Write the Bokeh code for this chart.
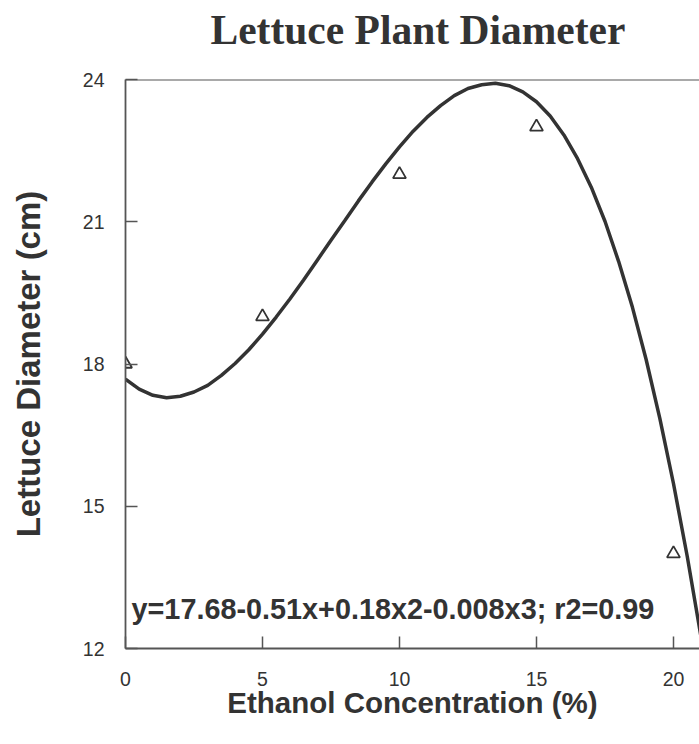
from bokeh.plotting import figure
from bokeh.models import Range1d, FixedTicker, Label, Span, Title
from bokeh.embed import file_html
from bokeh.resources import INLINE

# Observed data (ethanol concentration %, lettuce diameter cm)
conc = [0, 5, 10, 15, 20]
diam = [18.0, 19.0, 22.0, 23.0, 14.0]

# Fitted curve
curve_x = [0, 0.5, 1, 1.5, 2, 2.5, 3, 3.5, 4, 4.5, 5, 5.5, 6, 6.5, 7, 7.5, 8, 8.5,
           9, 9.5, 10, 10.5, 11, 11.5, 12, 12.5, 13, 13.5, 14, 14.5, 15, 15.5, 16,
           16.5, 17, 17.5, 18, 18.5, 19, 19.5, 20, 20.5, 21]
curve_y = [17.68, 17.47, 17.34, 17.29, 17.32, 17.41, 17.55, 17.76, 18.01, 18.30,
           18.63, 18.99, 19.37, 19.77, 20.19, 20.61, 21.02, 21.44, 21.84, 22.22,
           22.58, 22.91, 23.20, 23.45, 23.66, 23.81, 23.89, 23.92, 23.87, 23.74,
           23.53, 23.23, 22.83, 22.33, 21.73, 21.01, 20.16, 19.20, 18.10, 16.86,
           15.48, 13.95, 12.26]

x_ticks = [0, 5, 10, 15, 20]
y_ticks = [12, 15, 18, 21, 24]
title_text = "Lettuce Plant Diameter"
equation = "y=17.68-0.51x+0.18x2-0.008x3; r2=0.99"

INK = "#333333"
FRAME = "#555555"

p = figure(width=699, height=744, output_backend="svg", toolbar_location=None,
           x_range=Range1d(0, 20.95), y_range=Range1d(12, 24),
           min_border_left=125, min_border_right=0, min_border_top=79,
           min_border_bottom=96, background_fill_color="white",
           border_fill_color="white", outline_line_color=None)

# spacer panel between the frame and the title
p.add_layout(Title(text=" ", text_font_size="1px", standoff=24), "above")

p.title.text = title_text
p.title.text_font = "Liberation Serif"
p.title.text_font_style = "bold"
p.title.text_font_size = "41.5px"
p.title.text_color = INK
p.title.align = "left"
p.title.vertical_align = "bottom"
p.title.offset = 85
p.title.standoff = 0

p.xgrid.visible = False
p.ygrid.visible = False

for ax, ticks in ((p.xaxis[0], x_ticks), (p.yaxis[0], y_ticks)):
    ax.ticker = FixedTicker(ticks=ticks)
    ax.major_tick_in = 12
    ax.major_tick_out = 0
    ax.minor_tick_in = 0
    ax.minor_tick_out = 0
    ax.major_tick_line_color = FRAME
    ax.major_tick_line_width = 1.5
    ax.axis_line_color = FRAME
    ax.axis_line_width = 1.8
    ax.major_label_text_font = "Liberation Sans"
    ax.major_label_text_font_size = "19.5px"
    ax.major_label_text_color = INK
    ax.axis_label_text_font = "Liberation Sans"
    ax.axis_label_text_font_style = "bold"
    ax.axis_label_text_color = INK

p.xaxis.axis_label = "Ethanol Concentration (%)"
p.xaxis.axis_label_text_font_size = "29.5px"
p.xaxis.major_label_standoff = 23
p.xaxis.axis_label_standoff = -3

p.yaxis.axis_label = "Lettuce Diameter (cm)"
p.yaxis.axis_label_text_font_size = "33px"
p.yaxis.major_label_standoff = 21
p.yaxis.axis_label_standoff = 33

p.add_layout(Span(location=24, dimension="width", line_color=FRAME, line_width=1.8))

p.line(curve_x, curve_y, line_color=INK, line_width=3.5)
p.scatter(conc, diam, marker="triangle", size=13, fill_color=None,
          line_color=INK, line_width=1.8)

p.add_layout(Label(x=0.22, y=12.84, text=equation, text_font="Liberation Sans",
                   text_font_size="28.8px", text_font_style="bold", text_color=INK,
                   text_baseline="alphabetic"))

open("out.html", "w").write(file_html(p, INLINE))
